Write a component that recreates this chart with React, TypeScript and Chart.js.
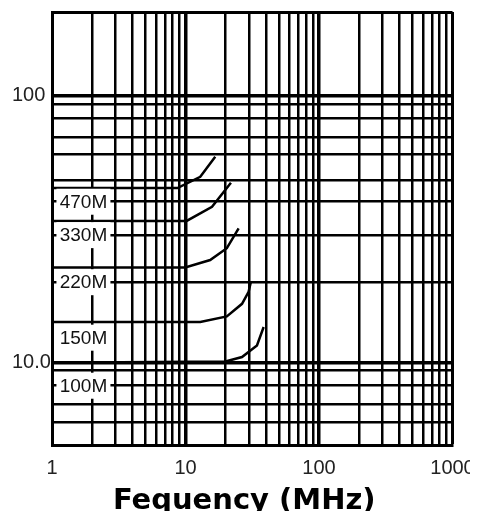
import React, { useEffect, useRef } from 'react';
import { Chart, registerables } from 'chart.js';

Chart.register(...registerables);

// ---- data ----
const xGridValues = [1, 2, 3, 4, 5, 6, 7, 8, 9, 10, 20, 30, 40, 50, 60, 70, 80, 90, 100, 200, 300, 400, 500, 600, 700, 800, 900, 1000];
const xLabelValues = [1, 10, 100, 1000];
const xLabelTexts = ['1', '10', '100', '1000'];
const yGridValues = [4.9, 6, 7, 8.2, 9.4, 10, 20, 30, 40, 48, 60, 70, 82, 92.5, 100, 205];
const yLabelValues = [10, 100];
const yLabelTexts = ['10.0', '100'];
const xMin = 1;
const xMax = 1000;
const yMin = 4.9;
const yMax = 205;

const curveNames = ['470M', '330M', '220M', '150M', '100M'];
const curve470x = [1, 8.7, 12.9, 16.7];
const curve470y = [45, 45, 49.6, 58.9];
const curve330x = [1, 10.2, 15.8, 21.9];
const curve330y = [33.9, 33.9, 38.3, 47.1];
const curve220x = [1, 9.95, 15.3, 20.4, 25.0];
const curve220y = [22.7, 22.7, 24.2, 26.8, 31.8];
const curve150x = [1, 12.9, 20.4, 26.5, 29.7, 30.9];
const curve150y = [14.2, 14.2, 14.9, 16.6, 18.4, 20.1];
const curve100x = [1, 19.9, 26.5, 34.3, 38.5];
const curve100y = [10, 10.1, 10.5, 11.6, 13.6];

const labelX = 1.72;
const labelY = [40, 30, 20, 12.4, 8.2];

const axisTitle = 'Fequency (MHz)';

const textFont = '"Liberation Sans", Arial, sans-serif';

const toPoints = (xs: number[], ys: number[]) => xs.map((x, i) => ({ x, y: ys[i] }));

export default function App() {
  const canvasRef = useRef<HTMLCanvasElement | null>(null);

  useEffect(() => {
    if (!canvasRef.current) return;

    const curveLabelPlugin = {
      id: 'curveLabels',
      afterDatasetsDraw(chart: any) {
        const { ctx } = chart;
        const xs = chart.scales.x;
        const ys = chart.scales.y;
        ctx.save();
        ctx.font = `19px ${textFont}`;
        ctx.textAlign = 'center';
        ctx.textBaseline = 'middle';
        curveNames.forEach((name, i) => {
          const px = xs.getPixelForValue(labelX);
          const py = ys.getPixelForValue(labelY[i]);
          ctx.fillStyle = '#ffffff';
          ctx.fillRect(px - 27, py - 13, 54, 26);
          ctx.fillStyle = '#111111';
          ctx.fillText(name, px, py + 1);
        });
        ctx.restore();
      },
    };

    const titlePlugin = {
      id: 'bottomTitle',
      afterDraw(chart: any) {
        const { ctx, chartArea } = chart;
        ctx.save();
        ctx.font = 'bold 29px "DejaVu Sans", sans-serif';
        ctx.fillStyle = '#000000';
        ctx.textAlign = 'left';
        ctx.textBaseline = 'alphabetic';
        const w = ctx.measureText(axisTitle).width;
        const cx = (chartArea.left + chartArea.right) / 2 - 8;
        ctx.fillText(axisTitle, cx - w / 2, chart.height - 2);
        ctx.restore();
      },
    };

    const makeDs = (xs: number[], ys: number[], label: string) => ({
      label,
      data: toPoints(xs, ys),
      borderColor: '#000000',
      borderWidth: 2.5,
      pointRadius: 0,
      tension: 0,
      fill: false,
    });

    const gridWidth = (edge: number) => (c: any) => {
      const v = c.tick ? c.tick.value : 0;
      if (v === 10 || v === 100) return 3.5;
      if (v === edge) return 3;
      return 2.5;
    };

    const chart = new Chart(canvasRef.current, {
      type: 'line',
      data: {
        datasets: [
          makeDs(curve470x, curve470y, curveNames[0]),
          makeDs(curve330x, curve330y, curveNames[1]),
          makeDs(curve220x, curve220y, curveNames[2]),
          makeDs(curve150x, curve150y, curveNames[3]),
          makeDs(curve100x, curve100y, curveNames[4]),
        ],
      },
      options: {
        animation: false,
        responsive: true,
        maintainAspectRatio: false,
        layout: { padding: { left: 4, top: 4, right: 25.5, bottom: 0 } },
        plugins: { legend: { display: false }, tooltip: { enabled: false }, title: { display: false } },
        scales: {
          x: {
            type: 'logarithmic',
            min: xMin,
            max: xMax,
            afterBuildTicks: (scale: any) => {
              scale.ticks = xGridValues.map((v) => ({ value: v }));
            },
            afterFit: (scale: any) => {
              scale.height = 65.5;
              scale.paddingLeft = 0;
              scale.paddingRight = 0;
            },
            ticks: {
              autoSkip: false,
              maxRotation: 0,
              minRotation: 0,
              padding: 11,
              color: '#222222',
              font: { family: textFont, size: 20 },
              callback: (v: any) => {
                const idx = xLabelValues.indexOf(Number(v));
                return idx >= 0 ? xLabelTexts[idx] : '';
              },
            },
            grid: {
              drawTicks: false,
              color: '#000000',
              lineWidth: gridWidth(xMax),
            },
            border: { display: true, color: '#000000', width: 3 },
          },
          y: {
            type: 'logarithmic',
            min: yMin,
            max: yMax,
            afterBuildTicks: (scale: any) => {
              scale.ticks = yGridValues.map((v) => ({ value: v }));
            },
            afterFit: (scale: any) => {
              scale.width = 40;
              scale.paddingTop = 0;
              scale.paddingBottom = 0;
            },
            ticks: {
              autoSkip: false,
              crossAlign: 'far',
              padding: 4,
              color: '#222222',
              font: { family: textFont, size: 20 },
              callback: (v: any) => {
                const idx = yLabelValues.indexOf(Number(v));
                return idx >= 0 ? yLabelTexts[idx] : '';
              },
            },
            grid: {
              drawTicks: false,
              color: '#000000',
              lineWidth: gridWidth(yMax),
            },
            border: { display: true, color: '#000000', width: 3 },
          },
        },
      },
      plugins: [curveLabelPlugin, titlePlugin],
    } as any);

    return () => chart.destroy();
  }, []);

  return (
    <div style={{ width: 470, height: 503, position: 'relative' }}>
      <canvas ref={canvasRef} />
    </div>
  );
}
